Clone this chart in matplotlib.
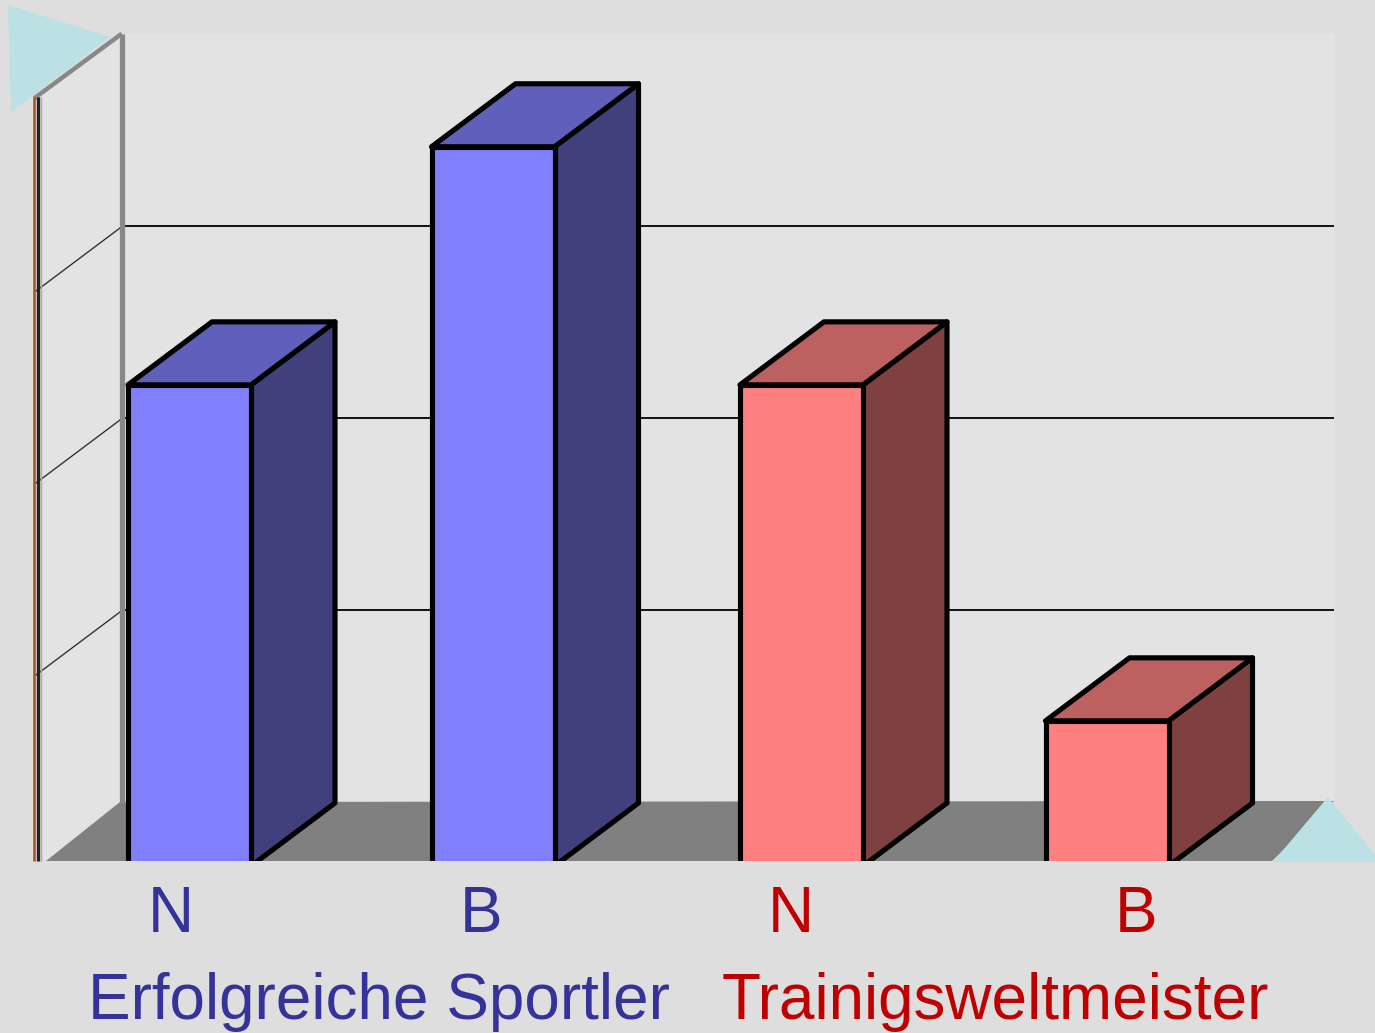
import matplotlib
matplotlib.use('Agg')
import matplotlib.pyplot as plt
from matplotlib.patches import Polygon, Rectangle

plt.rcParams['font.family'] = ['Liberation Sans', 'DejaVu Sans']

# values in gridline units
bar_values = [2.48, 3.72, 2.48, 0.73]
bar_labels = ['N', 'B', 'N', 'B']
group_names = ['Erfolgreiche Sportler', 'Trainigsweltmeister']
gridlines = [1, 2, 3]

W, H = 1375, 1033
BLUE_TXT = '#333399'
RED_TXT = '#BF0000'
blue = ('#8080FF', '#6060BC', '#40407C')
red = ('#FF8080', '#BC6060', '#7F4040')
bar_colors = [blue, blue, red, red]
label_colors = [BLUE_TXT, BLUE_TXT, RED_TXT, RED_TXT]
label_x = [171, 481, 791, 1136]
bar_nudge = [0, -2, 1, 1]  # px, the bars are not quite evenly spaced

fig = plt.figure(figsize=(W / 100, H / 100), dpi=100, facecolor='#DEDEDE')

# background axes in pixel coords for the walls, floor and text
bg = fig.add_axes([0, 0, 1, 1])
bg.set_xlim(0, W)
bg.set_ylim(H, 0)
bg.axis('off')

UNIT = 192
FLOOR_Y = 861
WALL_X0, WALL_X1 = 122, 1334

bg.add_patch(Rectangle((WALL_X0, 34), WALL_X1 - WALL_X0, FLOOR_Y - 34, fc='#E3E3E3', ec='none'))
bg.add_patch(Polygon([(35, 97), (122, 34), (122, FLOOR_Y), (35, FLOOR_Y)], fc='#E3E3E3', ec='none'))
bg.add_patch(Polygon([(46, FLOOR_Y), (120, 802), (WALL_X1, 801), (1272, FLOOR_Y)], fc='#808080', ec='none'))

for v in gridlines:
    y_back = 802 - v * UNIT
    bg.plot([WALL_X0, WALL_X1], [y_back, y_back], color='#111111', lw=1.4, solid_capstyle='butt')
    bg.plot([36, WALL_X0 - 2], [FLOOR_Y - v * UNIT + 6, y_back + 2], color='#333333', lw=1)

bg.plot([122, 122], [34, 803], color='#888888', lw=3.8, solid_capstyle='butt')
bg.plot([36, 120], [97, 35], color='#888888', lw=3.2)
bg.plot([34.5, 34.5], [97, FLOOR_Y], color='#A85020', lw=1.8, solid_capstyle='butt')
bg.plot([38, 38], [97, FLOOR_Y], color='#222222', lw=2.4, solid_capstyle='butt')
bg.plot([41.5, 41.5], [97, FLOOR_Y], color='#AAAAAA', lw=1, solid_capstyle='butt')

# bars, clipped at the front floor edge by their own axes
ax = fig.add_axes([0, (H - FLOOR_Y) / H, 1, FLOOR_Y / H])
ax.patch.set_alpha(0)
ax.axis('off')
ax.set_xlim(-189.5 / 305.5, (W - 189.5) / 305.5)
ax.set_ylim(0, FLOOR_Y / UNIT)

half = 61.5 / 305.5
dx = 84 / 305.5
dy = 63 / UNIT
base = -5 / UNIT
for i, (val, cols) in enumerate(zip(bar_values, bar_colors)):
    l = i - half + bar_nudge[i] / 305.5
    r = i + half + bar_nudge[i] / 305.5
    style = dict(ec='black', lw=3.7, joinstyle='round')
    ax.add_patch(Polygon([(r, base), (r + dx, base + dy), (r + dx, val + dy), (r, val)], fc=cols[2], **style))
    ax.add_patch(Polygon([(l, val), (r, val), (r + dx, val + dy), (l + dx, val + dy)], fc=cols[1], **style))
    ax.add_patch(Polygon([(l, base), (r, base), (r, val), (l, val)], fc=cols[0], **style))

# triangles and text on top
fg = fig.add_axes([0, 0, 1, 1])
fg.patch.set_alpha(0)
fg.axis('off')
fg.set_xlim(0, W)
fg.set_ylim(H, 0)
fg.add_patch(Polygon([(8, 5), (110, 37), (11, 112)], fc='#BCE1E4', ec='none'))
fg.add_patch(Polygon([(1273, 862), (1328, 797), (1375, 855), (1375, 862)], fc='#BCE1E4', ec='none'))

for x, lab, c in zip(label_x, bar_labels, label_colors):
    fg.text(x, 932, lab, color=c, fontsize=46, ha='center', va='baseline')
fg.text(88, 1019, group_names[0], color=BLUE_TXT, fontsize=46, ha='left', va='baseline')
fg.text(722, 1019, group_names[1], color=RED_TXT, fontsize=46, ha='left', va='baseline')

fig.savefig('out.png', dpi=100, facecolor=fig.get_facecolor())
